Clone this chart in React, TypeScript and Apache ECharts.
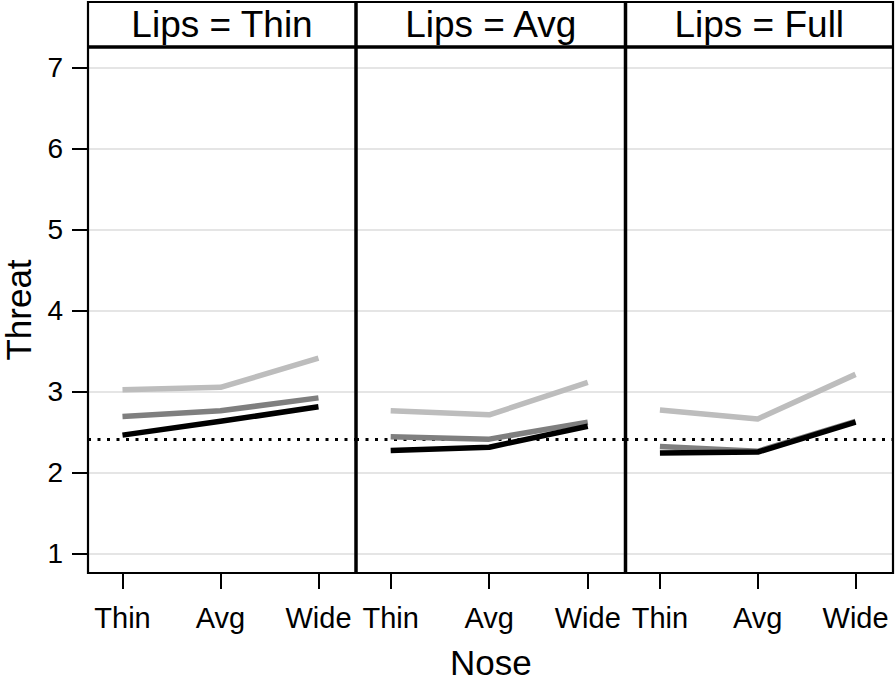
import React, { useEffect, useRef } from "react";
import * as echarts from "echarts";

const noseLevels = ["Thin", "Avg", "Wide"];
const lipsLevels = ["Thin", "Avg", "Full"];
const yTicks = [1, 2, 3, 4, 5, 6, 7];
const referenceThreat = 2.41;

// one array per line group, one inner array per Lips panel, values by Nose level
const threatLight = [
  [3.02, 3.05, 3.41],
  [2.76, 2.71, 3.11],
  [2.77, 2.66, 3.21],
];
const threatMid = [
  [2.69, 2.76, 2.92],
  [2.44, 2.41, 2.62],
  [2.32, 2.26, 2.63],
];
const threatDark = [
  [2.46, 2.63, 2.81],
  [2.27, 2.31, 2.57],
  [2.24, 2.25, 2.62],
];

const groups = [
  { name: "light", data: threatLight, color: "#bdbdbd" },
  { name: "mid", data: threatMid, color: "#7f7f7f" },
  { name: "dark", data: threatDark, color: "#000000" },
];

const FONT = "'Liberation Sans', Arial, Helvetica, sans-serif";
const panelLeft = [88, 356, 625.5];
const panelWidth = [268, 269.5, 267.5];
const TOP = 47;
const BOTTOM = 573;
const FRAME_TOP = 2;
const RIGHT = 893;

export default function App() {
  const ref = useRef<HTMLDivElement>(null);
  useEffect(() => {
    if (!ref.current) return;
    const chart = echarts.init(ref.current, undefined, { renderer: "svg" });

    const grid = panelLeft.map((l, i) => ({
      left: l,
      width: panelWidth[i],
      top: TOP,
      height: BOTTOM - TOP,
      containLabel: false,
      outerBoundsMode: "none",
    }));

    const xAxis = lipsLevels.map((_, i) => ({
      type: "value",
      gridIndex: i,
      min: -0.352,
      max: 2.383,
      name: i === 1 ? "Nose" : "",
      nameLocation: "middle",
      nameGap: 72,
      nameMoveOverlap: false,
      nameTextStyle: { fontSize: 35, color: "#000", fontFamily: FONT },
      axisLine: { show: false, onZero: false },
      splitLine: { show: false },
      axisTick: {
        show: true,
        customValues: [0, 1, 2],
        length: 16,
        lineStyle: { color: "#000", width: 2 },
      },
      axisLabel: {
        customValues: [0, 1, 2],
        formatter: (v: number) => noseLevels[Math.round(v)] ?? "",
        fontSize: 29,
        color: "#000",
        fontFamily: FONT,
        margin: 30,
      },
    }));

    const yAxis = lipsLevels.map((_, i) => ({
      type: "value",
      gridIndex: i,
      min: 0.757,
      max: 7.253,
      name: i === 0 ? "Threat" : "",
      nameLocation: "middle",
      nameGap: 52,
      nameRotate: 90,
      nameMoveOverlap: false,
      nameTextStyle: { fontSize: 35, color: "#000", fontFamily: FONT },
      axisLine: { show: false, onZero: false },
      splitLine: {
        show: true,
        lineStyle: { color: "#dcdcdc", width: 1.5 },
      },
      axisTick: {
        show: i === 0,
        customValues: yTicks,
        length: 16,
        lineStyle: { color: "#000", width: 2 },
      },
      axisLabel: {
        show: i === 0,
        customValues: yTicks,
        fontSize: 28,
        color: "#000",
        fontFamily: FONT,
        margin: 25,
      },
    }));

    const series: any[] = [];
    lipsLevels.forEach((_, p) => {
      groups.forEach((g, gi) => {
        series.push({
          type: "line",
          name: g.name,
          xAxisIndex: p,
          yAxisIndex: p,
          data: g.data[p].map((v, k) => [k, v]),
          showSymbol: false,
          symbol: "none",
          lineStyle: { color: g.color, width: 5.5, cap: "butt", join: "round" },
          z: 3 + gi,
          markLine:
            gi === 0
              ? {
                  silent: true,
                  symbol: "none",
                  label: { show: false },
                  lineStyle: { color: "#000", width: 3, type: [3, 6.5] },
                  data: [{ yAxis: referenceThreat }],
                  z: 2,
                }
              : undefined,
        });
      });
    });

    const graphic: any[] = [
      {
        type: "rect",
        shape: { x: panelLeft[0], y: FRAME_TOP, width: RIGHT - panelLeft[0], height: BOTTOM - FRAME_TOP },
        style: { fill: "none", stroke: "#000", lineWidth: 2.2 },
        z: 10,
      },
      {
        type: "line",
        shape: { x1: panelLeft[0], y1: TOP, x2: RIGHT, y2: TOP },
        style: { stroke: "#000", lineWidth: 3.5 },
        z: 10,
      },
      ...[panelLeft[1], panelLeft[2]].map((x) => ({
        type: "line",
        shape: { x1: x, y1: FRAME_TOP, x2: x, y2: BOTTOM },
        style: { stroke: "#000", lineWidth: 3.5 },
        z: 10,
      })),
      ...lipsLevels.map((lv, i) => ({
        type: "text",
        x: panelLeft[i] + panelWidth[i] / 2,
        y: 24,
        style: {
          text: `Lips = ${lv}`,
          fontSize: 37,
          fontFamily: FONT,
          fill: "#000",
          align: "center",
          verticalAlign: "middle",
        },
        z: 10,
      })),
    ];

    chart.setOption({
      animation: false,
      backgroundColor: "#fff",
      grid,
      xAxis,
      yAxis,
      series,
      graphic,
    });
    return () => chart.dispose();
  }, []);

  return (
    <div
      ref={ref}
      style={{ position: "fixed", left: 0, top: 0, width: 896, height: 681, background: "#fff" }}
    />
  );
}
